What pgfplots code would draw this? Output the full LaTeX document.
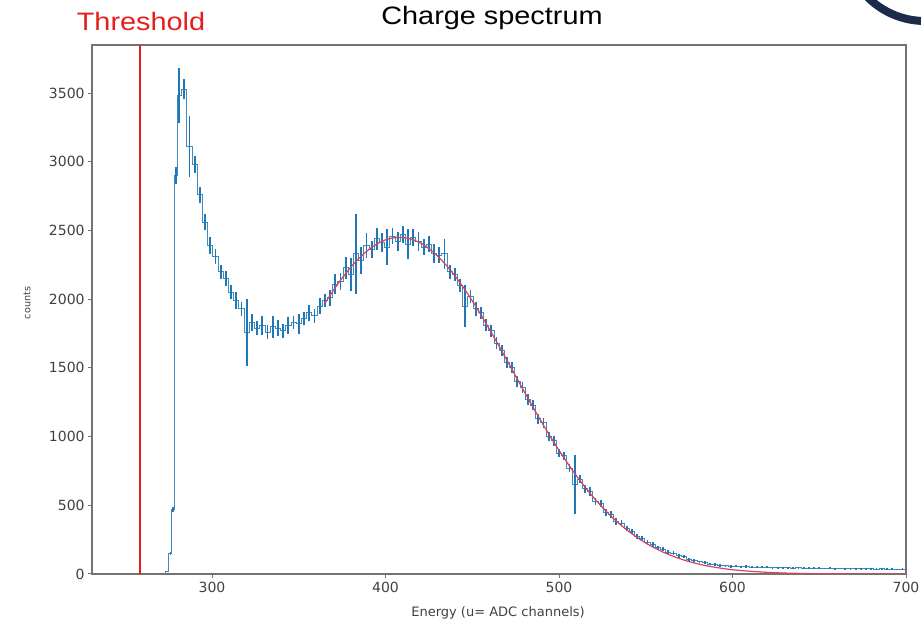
\documentclass[border=0pt]{standalone}
\usepackage{fontspec}
\usepackage{pgfplots}
\pgfplotsset{compat=1.18}
\usepackage{pgfplotstable}
\newfontfamily\dejavu{DejaVu Sans}
\newfontfamily\slidefont[FakeStretch=1.145]{Liberation Sans}
\definecolor{histblue}{HTML}{1F77B4}
\definecolor{fitred}{HTML}{D9435A}
\definecolor{thrred}{HTML}{E3201E}
\definecolor{logonavy}{HTML}{1C2B4A}

% charge histogram: bin centre, counts, error
\pgfplotstableread{
x y ey
231 0 0
272 0 0
274 20 0
276 150 10
277.5 470 20
279 2900 60
281 3480 200
284 3530 70
287 3110 220
290 2980 60
293 2760 60
296 2560 60
299 2390 60
302 2310 55
305 2200 50
308 2150 55
311 2050 50
314 1990 60
317 1930 50
320 1760 245
323 1830 60
326 1790 50
329 1810 70
332 1760 50
335 1800 80
338 1790 60
341 1770 50
344 1810 60
347 1830 50
350 1820 70
353 1860 50
356 1900 60
359 1880 50
362 1950 60
365 1990 50
368 2010 60
371 2110 70
374 2130 60
377 2230 80
380 2180 120
383 2330 290
386 2280 100
389 2390 90
392 2360 60
395 2440 80
398 2410 70
401 2380 130
404 2460 60
407 2420 70
410 2470 60
413 2400 110
416 2450 60
419 2420 70
422 2380 60
425 2400 60
428 2330 70
431 2320 60
434 2330 110
437 2200 50
440 2180 50
443 2100 50
446 1950 150
449 2020 50
452 1930 50
455 1900 45
458 1810 45
461 1770 45
464 1680 45
467 1630 40
470 1540 40
473 1500 40
476 1400 40
479 1360 40
482 1270 40
485 1230 35
488 1130 35
491 1100 35
494 1000 35
497 970 35
500 880 30
503 860 30
506 770 30
509 650 215
512 690 30
515 620 30
518 600 30
521 530 25
524 510 25
527 450 25
530 430 25
533 380 25
536 370 20
539 330 20
542 310 20
545 275 18
548 262 18
551 230 16
554 215 16
557 190 15
560 180 15
563 160 14
566 150 14
569 132 12
572 125 12
575 108 12
578 100 11
581 88 10
584 82 10
587 72 9
590 68 9
593 62 8
596 60 8
599 55 8
602 58 8
605 52 8
608 55 8
611 50 7
614 51 7
617 48 7
620 49 7
623 46 7
626 47 7
629 45 7
632 46 7
635 44 7
638 45 7
641 43 7
644 44 7
647 42 7
650 43 7
653 41 6
656 42 6
659 40 6
662 41 6
665 39 6
668 40 6
671 38 6
674 39 6
677 37 6
680 38 6
683 36 6
686 37 6
689 35 6
692 36 6
695 34 6
698 35 6
700 35 0
}\hist

% fitted curve
\pgfplotstableread{
x y
365 1969
370 2065
375 2154
380 2233
385 2301
390 2358
395 2401
400 2432
405 2447
410 2449
415 2436
420 2409
425 2368
430 2314
435 2247
440 2170
445 2083
450 1988
455 1886
460 1779
465 1668
470 1555
475 1440
480 1326
485 1214
490 1105
495 1000
500 900
505 805
510 715
515 632
520 555
525 485
530 421
535 363
540 312
545 266
550 225
555 190
560 159
565 133
570 110
575 90
580 74
585 60
590 49
595 39
600 31
610 20
620 12
630 7
640 4
650 2
670 1
700 0
}\fit

\begin{document}
\begin{tikzpicture}[x=0.5pt,y=0.5pt]
\useasboundingbox (0,0) rectangle (921,627);

\begin{axis}[
  at={(46pt,26.5pt)}, anchor=south west,
  scale only axis, width=407pt, height=264.5pt,
  xmin=230.8, xmax=700, ymin=0, ymax=3850,
  xtick={300,400,...,700}, ytick={0,500,...,3500},
  tick align=outside, xtick pos=left, ytick pos=left,
  major tick length=2pt,
  axis line style={black!55, line width=0.7pt},
  tick style={black!55, line width=0.5pt},
  tick label style={font=\dejavu\fontsize{7}{8}\selectfont, text=black!75},
  /pgf/number format/assume math mode=true,
  /pgf/number format/1000 sep={},
  yticklabel style={inner sep=1.5pt},
  xticklabel style={inner sep=2pt},
]
\addplot[color=histblue!85, line width=0.45pt, const plot mark mid,
  error bars/.cd, y dir=both, y explicit, error mark=none,
  error bar style={line width=0.9pt, color=histblue}]
  table[x=x, y=y, y error=ey] {\hist};
\addplot[color=fitred, line width=0.6pt, smooth] table[x=x, y=y] {\fit};
\addplot[color=thrred, line width=1pt] coordinates {(258.5,0) (258.5,3850)};
\end{axis}

\node[font=\dejavu\fontsize{6.5}{7}\selectfont, text=black!75] at (498,14) {Energy (u= ADC channels)};
\node[font=\dejavu\fontsize{4.8}{5}\selectfont, text=black!75, rotate=90] at (27,324) {counts};

\node[anchor=base, font=\slidefont\fontsize{12.6}{14}\selectfont] at (492,602) {Charge spectrum};
\node[anchor=base, font=\slidefont\fontsize{12.6}{14}\selectfont, text=thrred] at (141,596) {Threshold};

\begin{scope}
\clip (0,0) rectangle (921,627);
\draw[logonavy, line width=4pt] (925,687) circle (81);
\end{scope}
\end{tikzpicture}
\end{document}
